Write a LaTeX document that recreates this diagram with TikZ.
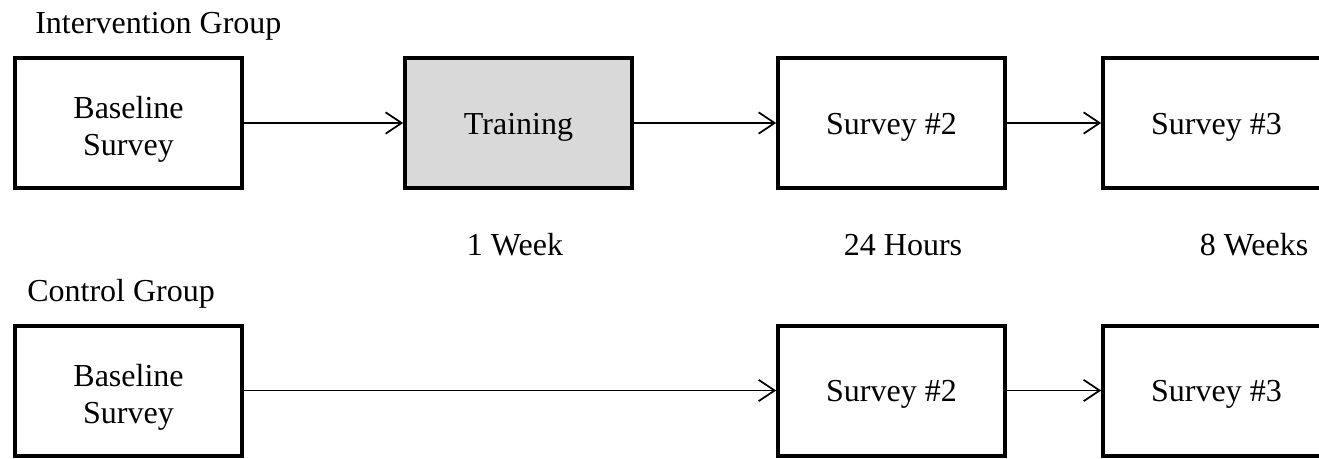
\documentclass[tikz,border=0pt]{standalone}
\usepackage{fontspec}
\setmainfont{Liberation Serif}
\usetikzlibrary{arrows.meta}
\begin{document}
\begin{tikzpicture}[x=0.75pt,y=-0.75pt,
  stagebox/.style={draw=black,line width=3pt,minimum width=170pt,minimum height=97.5pt,inner sep=0pt},
  shaded/.style={fill=gray!30},
  lbl/.style={font=\fontsize{24}{28}\selectfont,inner sep=0pt,align=center},
  boxtext/.style={lbl,yshift=-3pt},
  boxtextii/.style={lbl,yshift=-5pt},
  conn/.style={line width=1.1pt,-{Straight Barb[length=12pt,width=16pt,line width=1.3pt]}}]
\clip (0,0) rectangle (1319,459);
\useasboundingbox (0,0) rectangle (1319,459);
\node[lbl,anchor=west] (ig) at (35,26) {Intervention Group};
\node[stagebox,label={[boxtextii]center:Baseline\\Survey}] (b1) at (128.5,123) {};
\node[stagebox,shaded,label={[boxtext]center:Training}] (tr) at (518.5,123) {};
\node[stagebox,label={[boxtext]center:Survey \#2}] (s2) at (891.5,123) {};
\node[stagebox,label={[boxtext]center:Survey \#3}] (s3) at (1216.5,123) {};
\node[lbl] (w1) at (515,245) {1 Week};
\node[lbl] (h24) at (903,245) {24 Hours};
\node[lbl] (w8) at (1254,245) {8 Weeks};
\node[lbl,anchor=west] (cg) at (27,294) {Control Group};
\node[stagebox,label={[boxtextii]center:Baseline\\Survey}] (cb1) at (128.5,390.5) {};
\node[stagebox,label={[boxtext]center:Survey \#2}] (cs2) at (891.5,390.5) {};
\node[stagebox,label={[boxtext]center:Survey \#3}] (cs3) at (1216.5,390.5) {};
\draw[conn] (b1) -- (tr);
\draw[conn] (tr) -- (s2);
\draw[conn] (s2) -- (s3);
\draw[conn] (cb1) -- (cs2);
\draw[conn] (cs2) -- (cs3);
\end{tikzpicture}
\end{document}
